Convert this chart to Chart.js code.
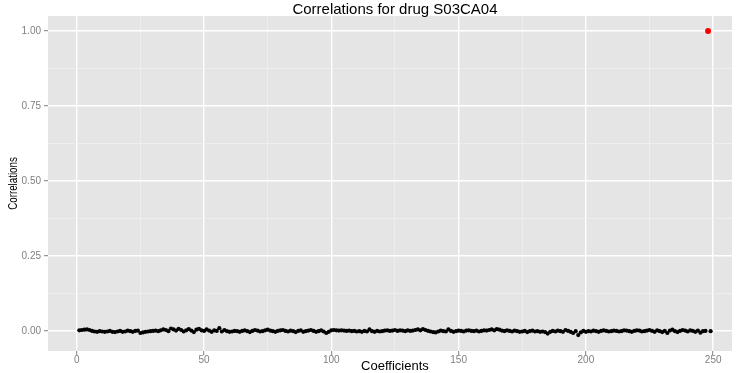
<!DOCTYPE html>
<html>
<head>
<meta charset="utf-8">
<title>Correlations for drug S03CA04</title>
<script src="https://cdn.jsdelivr.net/npm/chart.js@4/dist/chart.umd.min.js"></script>
<style>
  html, body { margin: 0; padding: 0; background: #ffffff; }
  #wrap { width: 736px; height: 373px; }
</style>
</head>
<body>
<div id="wrap"><canvas id="corrChart" width="736" height="373"></canvas></div>
<script>
const chartTitle = 'Correlations for drug S03CA04';
const xTitle = 'Coefficients';
const yTitle = 'Correlations';

// correlation of each coefficient (1..249) with the drug; 248 is the drug itself
const correlations = [
    0.003, 0.004, 0.005, 0.006, 0.004, 0.001, -0.001, -0.002, 0.000, -0.001,
    -0.002, -0.001, 0.001, -0.002, -0.003, -0.001, 0.001, -0.002, -0.001, 0.002,
    0.000, -0.002, 0.001, 0.002, -0.006, -0.004, -0.002, -0.001, 0.000, 0.001,
    0.002, 0.000, 0.003, 0.006, 0.004, 0.000, 0.009, 0.006, 0.002, 0.008,
    0.004, -0.001, 0.003, 0.007, 0.002, -0.003, 0.005, 0.008, 0.003, 0.001,
    0.006, 0.002, -0.002, 0.003, 0.001, 0.010, -0.001, 0.004, 0.000, -0.002,
    -0.001, 0.001, 0.000, -0.002, 0.001, 0.003, 0.000, -0.003, 0.001, 0.004,
    0.002, -0.001, 0.000, 0.003, 0.005, 0.002, 0.000, -0.002, 0.001, 0.003,
    0.004, 0.001, -0.001, 0.002, 0.000, -0.003, 0.001, 0.003, -0.002, 0.000,
    0.002, 0.004, 0.001, -0.002, 0.000, 0.003, -0.001, -0.006, -0.002, 0.003,
    0.004, 0.003, 0.002, 0.003, 0.002, 0.001, 0.002, 0.000, 0.001, -0.001,
    0.000, -0.002, 0.001, -0.001, 0.006, 0.000, -0.002, 0.001, -0.001, 0.000,
    0.002, 0.003, 0.001, 0.002, 0.004, 0.001, 0.003, 0.002, 0.000, 0.003,
    0.001, 0.002, 0.004, 0.006, 0.003, 0.007, 0.004, 0.001, -0.001, -0.003,
    -0.004, -0.001, 0.002, 0.000, -0.001, 0.006, 0.001, -0.002, 0.000, 0.002,
    0.001, -0.001, 0.002, 0.003, 0.001, 0.000, 0.002, -0.001, 0.001, 0.003,
    0.002, 0.004, 0.006, 0.003, 0.007, 0.005, 0.002, 0.000, 0.003, 0.001,
    -0.001, 0.002, 0.000, -0.002, -0.001, 0.001, -0.003, 0.000, 0.002, -0.001,
    0.000, -0.002, -0.001, -0.003, -0.008, -0.002, 0.001, -0.001, 0.002, 0.000,
    -0.002, 0.004, 0.001, -0.002, -0.006, 0.000, -0.013, -0.004, 0.001, -0.002,
    0.000, -0.001, 0.002, 0.000, -0.002, 0.001, 0.003, 0.001, -0.001, 0.000,
    0.002, 0.001, -0.001, 0.000, 0.003, 0.002, 0.000, -0.002, 0.001, 0.003,
    0.002, -0.001, 0.000, 0.002, 0.004, 0.001, -0.002, 0.003, 0.000, -0.003,
    0.001, -0.006, 0.002, 0.005, 0.000, -0.003, 0.001, 0.004, 0.002, -0.001,
    0.003, 0.001, -0.002, 0.002, -0.005, 0.000, 0.001, null, 0.000
];
const drugCoefficient = [248];
const drugCorrelation = [1.0];

const xMajor = [0, 50, 100, 150, 200, 250];
const xMinor = [25, 75, 125, 175, 225];
const yMajor = [0, 0.25, 0.5, 0.75, 1.0];
const yMinor = [0.125, 0.375, 0.625, 0.875];

const others = correlations
    .map((v, i) => ({ x: i + 1, y: v }))
    .filter(p => p.y !== null);
const drug = drugCoefficient.map((c, i) => ({ x: c, y: drugCorrelation[i] }));

const PANEL = '#E5E5E5';
const MINOR = '#F2F2F2';
const TICK = '#7F7F7F';

function isMajor(list, value) {
    return list.some(v => Math.abs(v - value) < 1e-9);
}

function axisOptions(major, minor, fmt, range, pad) {
    return {
        type: 'linear',
        min: range[0],
        max: range[1],
        border: { display: false },
        afterBuildTicks(scale) {
            scale.ticks = major.concat(minor).sort((a, b) => a - b).map(v => ({ value: v }));
        },
        grid: {
            drawTicks: true,
            tickLength: 4,
            color: ctx => ctx.tick && isMajor(major, ctx.tick.value) ? '#FFFFFF' : MINOR,
            lineWidth: ctx => ctx.tick && isMajor(major, ctx.tick.value) ? 1.4 : 0.7,
            tickColor: ctx => ctx.tick && isMajor(major, ctx.tick.value) ? TICK : 'rgba(0,0,0,0)',
            tickWidth: 1
        },
        ticks: {
            autoSkip: false,
            maxRotation: 0,
            padding: pad,
            color: TICK,
            font: { family: "'Liberation Sans', Arial, sans-serif", size: 10 },
            callback: v => isMajor(major, v) ? fmt(v) : ''
        }
    };
}

const panelPlugin = {
    id: 'panel',
    beforeDraw(chart) {
        const { ctx, chartArea: a } = chart;
        ctx.save();
        ctx.fillStyle = PANEL;
        ctx.fillRect(a.left, a.top, a.right - a.left, a.bottom - a.top);
        ctx.restore();
    },
    afterDraw(chart) {
        const { ctx, chartArea: a, scales } = chart;
        ctx.save();
        ctx.fillStyle = '#000000';
        ctx.textAlign = 'center';
        ctx.textBaseline = 'middle';

        // plot title, centred on the full panel width
        ctx.font = "15px 'Liberation Sans', Arial, sans-serif";
        ctx.fillText(chartTitle, scales.x.getPixelForValue(125), 10);

        ctx.font = "13px 'Liberation Sans', Arial, sans-serif";
        ctx.fillText(xTitle, scales.x.getPixelForValue(125), 366);

        // narrow rotated y title
        ctx.translate(13, (a.top + a.bottom) / 2);
        ctx.rotate(-Math.PI / 2);
        ctx.scale(0.75, 1);
        ctx.fillText(yTitle, 0, 0);
        ctx.restore();
    }
};

new Chart(document.getElementById('corrChart'), {
    type: 'scatter',
    data: {
        datasets: [
            {
                label: 'drug',
                data: drug,
                backgroundColor: '#FF0000',
                borderColor: '#FF0000',
                pointRadius: 3,
                borderWidth: 0
            },
            {
                label: 'coefficients',
                data: others,
                backgroundColor: '#000000',
                borderColor: '#000000',
                pointRadius: 2.1,
                borderWidth: 0
            }
        ]
    },
    options: {
        responsive: false,
        animation: false,
        devicePixelRatio: 1,
        layout: { padding: { top: 16, left: 0, right: 0, bottom: 0 } },
        plugins: {
            legend: { display: false },
            title: { display: false },
            tooltip: { enabled: false }
        },
        scales: {
            x: Object.assign(axisOptions(xMajor, xMinor, v => String(v), [-11.3, 257.4], -1), {
                afterFit(scale) { scale.height = 22; }
            }),
            y: Object.assign(axisOptions(yMajor, yMinor, v => v.toFixed(2), [-0.066, 1.05], 3), {
                afterFit(scale) { scale.width = 48; }
            })
        }
    },
    plugins: [panelPlugin]
});
</script>
</body>
</html>
